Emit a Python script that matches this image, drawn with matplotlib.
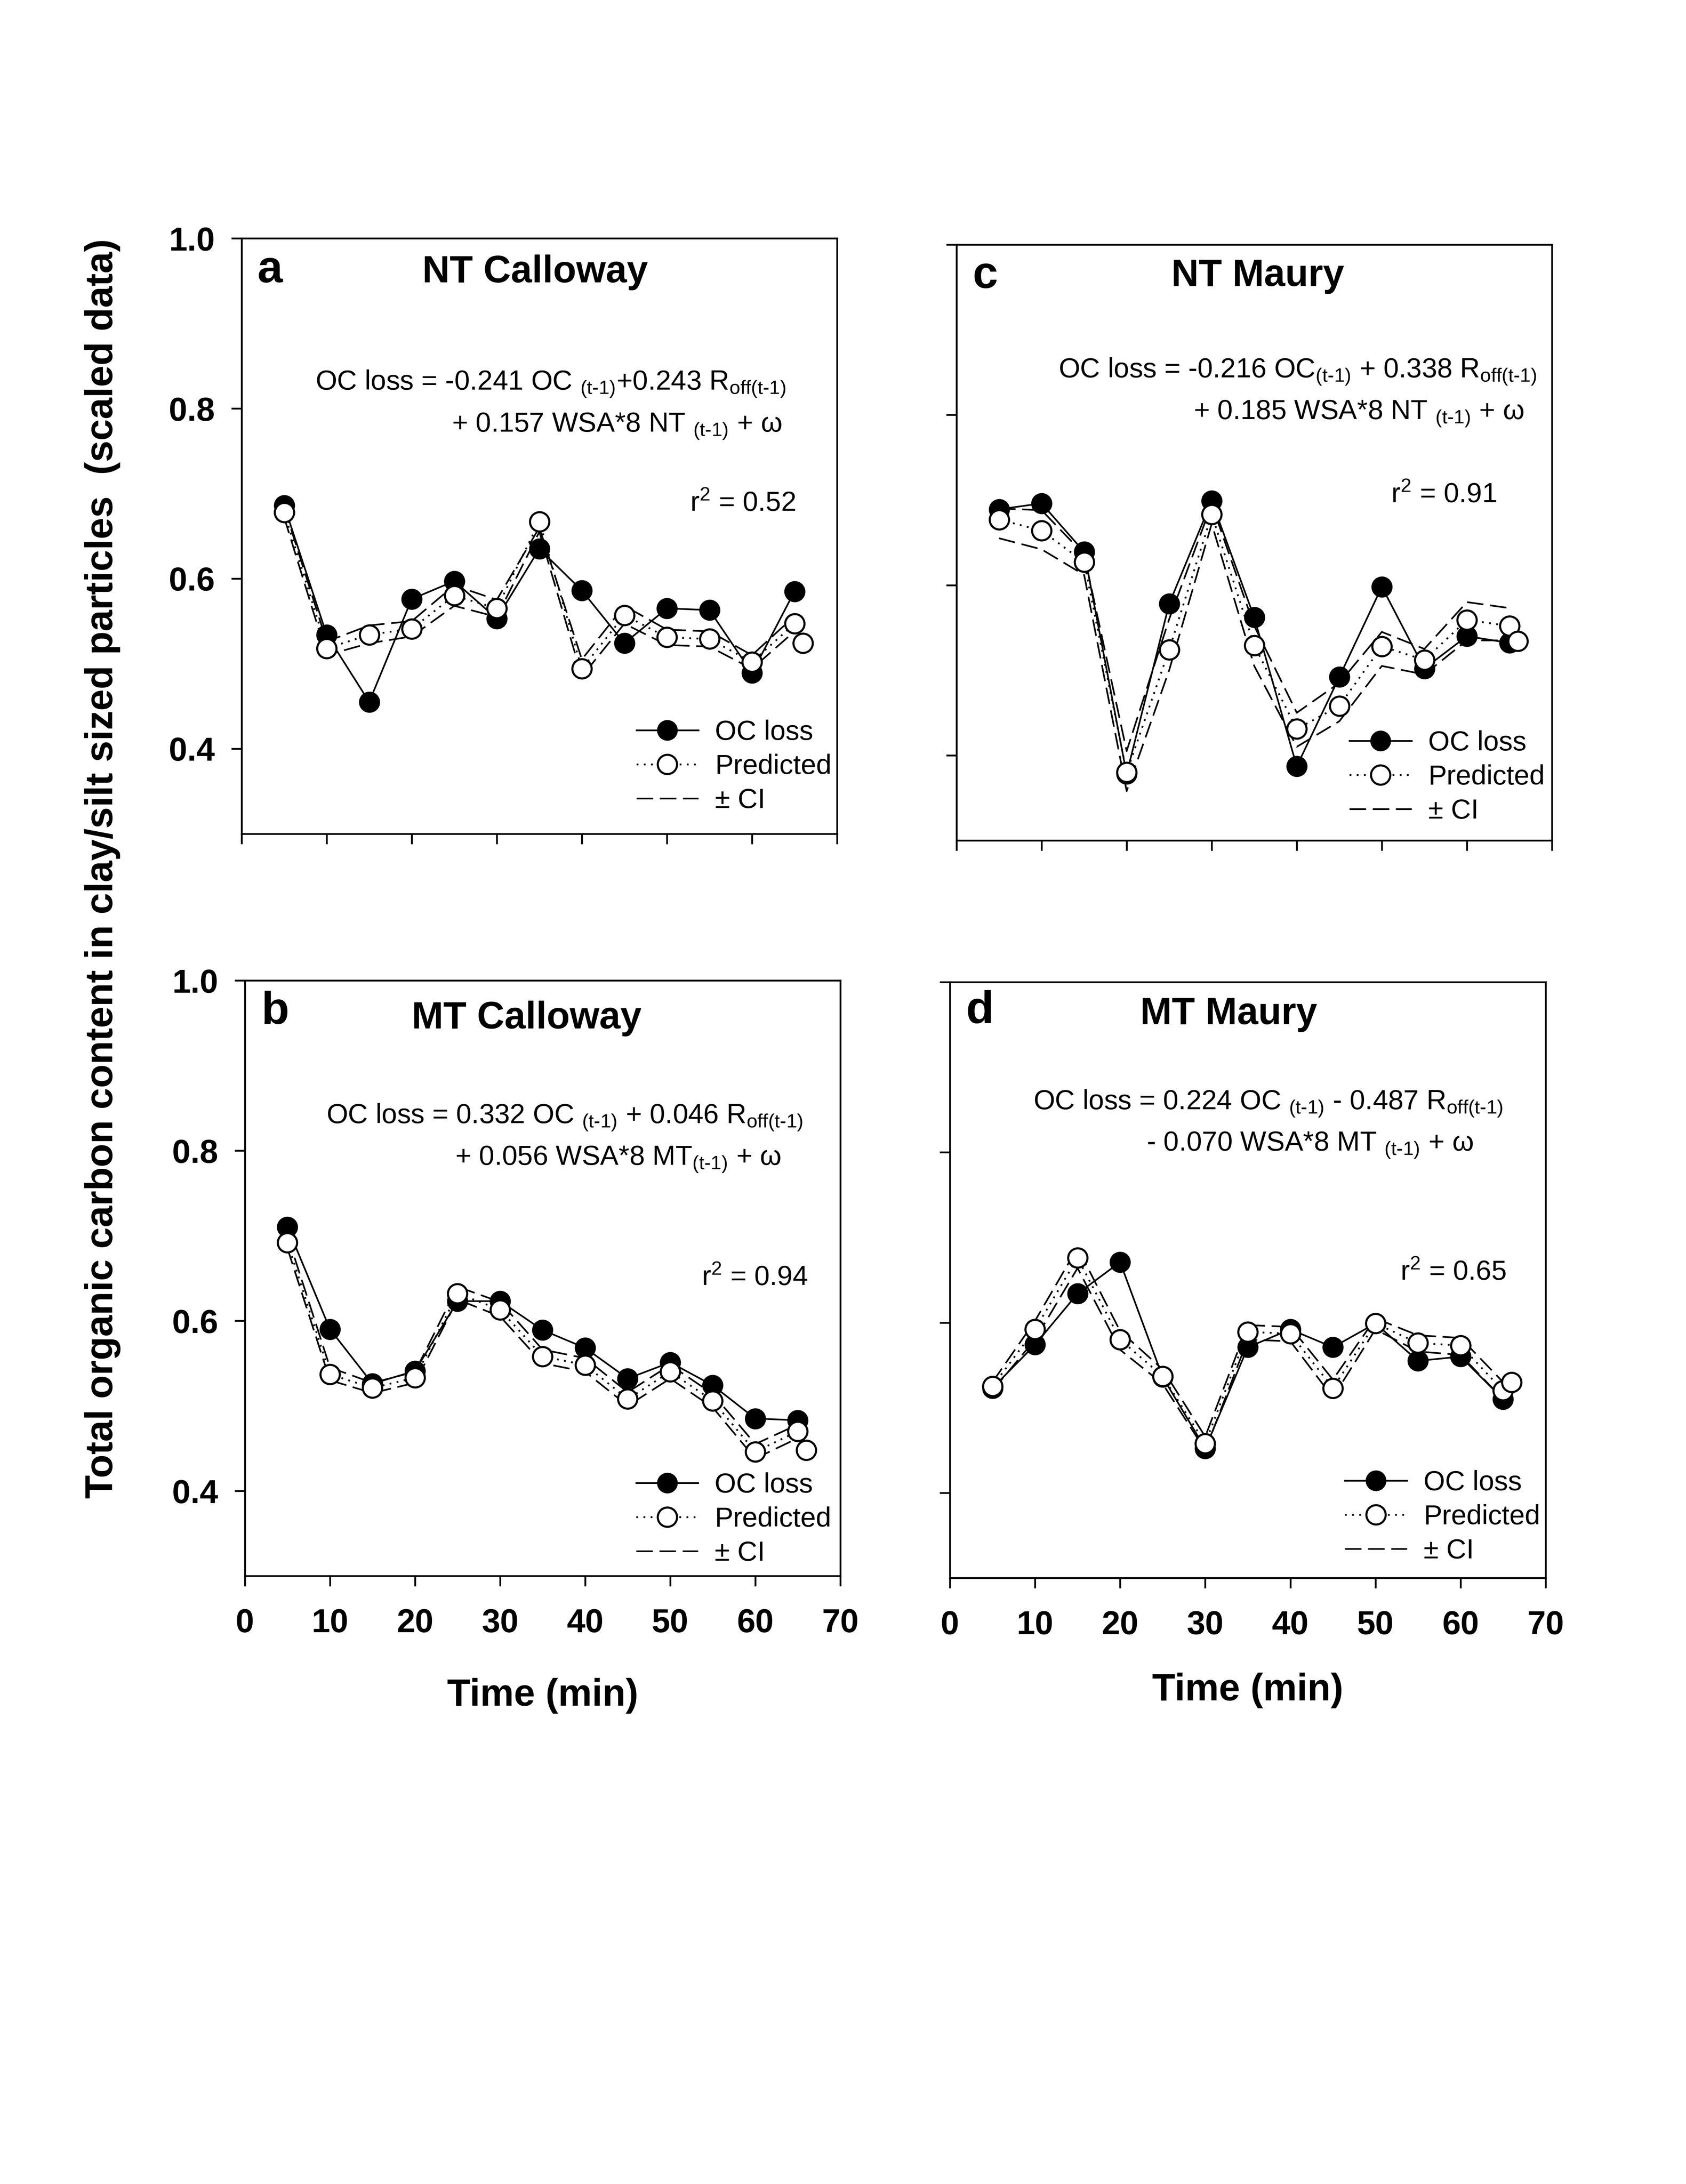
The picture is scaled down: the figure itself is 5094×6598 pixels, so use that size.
import matplotlib
matplotlib.use('Agg')
import matplotlib.pyplot as plt
from matplotlib.lines import Line2D

plt.rcParams['font.family'] = ['Liberation Sans', 'DejaVu Sans']
plt.rcParams['mathtext.fontset'] = 'custom'
plt.rcParams['mathtext.rm'] = 'Liberation Sans'
plt.rcParams['mathtext.it'] = 'Liberation Sans:italic'
plt.rcParams['mathtext.bf'] = 'Liberation Sans:bold'

# ---------------- data ----------------
time_obs = [5, 10, 15, 20, 25, 30, 35, 40, 45, 50, 55, 60, 65]
time_pred = [5, 10, 15, 20, 25, 30, 35, 40, 45, 50, 55, 60, 65, 66]
time_ci = [5, 10, 15, 20, 25, 30, 35, 40, 45, 50, 55, 60, 65]

# a: NT Calloway
a_oc = [0.686, 0.534, 0.455, 0.576, 0.597, 0.553, 0.635, 0.586, 0.524, 0.565, 0.563, 0.489, 0.585]
a_pred = [0.678, 0.518, 0.534, 0.541, 0.580, 0.565, 0.667, 0.494, 0.557, 0.531, 0.529, 0.502, 0.547, 0.524]
a_ci_up = [0.684, 0.526, 0.545, 0.550, 0.592, 0.575, 0.660, 0.505, 0.568, 0.540, 0.538, 0.510, 0.556]
a_ci_lo = [0.672, 0.510, 0.524, 0.532, 0.568, 0.555, 0.655, 0.485, 0.547, 0.522, 0.520, 0.494, 0.538]

# c: NT Maury
c_oc = [0.689, 0.696, 0.639, 0.378, 0.578, 0.699, 0.562, 0.387, 0.492, 0.598, 0.502, 0.540, 0.532]
c_pred = [0.677, 0.664, 0.627, 0.380, 0.524, 0.683, 0.529, 0.431, 0.458, 0.528, 0.512, 0.559, 0.552, 0.534]
c_ci_up = [0.690, 0.688, 0.636, 0.405, 0.560, 0.695, 0.552, 0.450, 0.485, 0.545, 0.525, 0.580, 0.573]
c_ci_lo = [0.655, 0.642, 0.612, 0.358, 0.500, 0.672, 0.505, 0.410, 0.440, 0.505, 0.495, 0.535, 0.535]

# b: MT Calloway
b_oc = [0.710, 0.590, 0.526, 0.541, 0.623, 0.623, 0.589, 0.568, 0.532, 0.551, 0.524, 0.485, 0.483]
b_pred = [0.692, 0.537, 0.521, 0.533, 0.632, 0.613, 0.558, 0.548, 0.508, 0.540, 0.506, 0.446, 0.470, 0.448]
b_ci_up = [0.700, 0.545, 0.527, 0.540, 0.640, 0.622, 0.566, 0.556, 0.516, 0.548, 0.514, 0.455, 0.478]
b_ci_lo = [0.685, 0.530, 0.515, 0.527, 0.625, 0.605, 0.550, 0.540, 0.500, 0.532, 0.498, 0.438, 0.462]

# d: MT Maury
d_oc = [0.523, 0.574, 0.634, 0.671, 0.536, 0.452, 0.571, 0.592, 0.571, 0.599, 0.555, 0.560, 0.510]
d_pred = [0.525, 0.592, 0.676, 0.580, 0.537, 0.458, 0.589, 0.587, 0.523, 0.599, 0.576, 0.573, 0.520, 0.530]
d_ci_up = [0.530, 0.602, 0.688, 0.590, 0.545, 0.466, 0.597, 0.595, 0.533, 0.605, 0.585, 0.582, 0.530]
d_ci_lo = [0.520, 0.580, 0.664, 0.568, 0.528, 0.450, 0.580, 0.578, 0.512, 0.592, 0.566, 0.562, 0.510]

x_ticks = [0, 10, 20, 30, 40, 50, 60, 70]
y_ticks = [0.4, 0.6, 0.8, 1.0]
y_ticklabels = ['0.4', '0.6', '0.8', '1.0']
legend_labels = ['OC loss', 'Predicted', '\u00b1 CI']

W, H = 5094, 6598
fig = plt.figure(figsize=(W / 300, H / 300), dpi=300)

def px_axes(left, top, right, bottom):
    return [left / W, 1 - bottom / H, (right - left) / W, (bottom - top) / H]

HY = '\u2010'  # plain hyphen glyph inside mathtext
SUB = r'$_{\mathrm{(t' + HY + r'1)}}$'
SUBOFF = r'$_{\mathrm{off(t' + HY + r'1)}}$'

SP_LW = 1.3
MS = 14
DASH = (0, (10, 4))
DOT = (0, (1, 3))
panels = [
    dict(rect=px_axes(730, 720, 2529, 2519), oc=a_oc, pred=a_pred, up=a_ci_up, lo=a_ci_lo,
         letter='a', letter_xy=(0.048, 0.946), title='NT Calloway', title_xy=(0.493, 0.943),
         eq1='OC loss = -0.241 OC ' + SUB + '+0.243 R' + SUBOFF, eq1_xy=(0.124, 0.7456),
         eq2='+ 0.157 WSA*8 NT ' + SUB + ' + ω', eq2_xy=(0.353, 0.675),
         r2=r'r$^{2}$ = 0.52', r2_xy=(0.753, 0.542),
         leg_xy=(0.663, 0.113), ylab=True, xlab=False),
    dict(rect=px_axes(2890, 739, 4689, 2539), oc=c_oc, pred=c_pred, up=c_ci_up, lo=c_ci_lo,
         letter='c', letter_xy=(0.048, 0.947), title='NT Maury', title_xy=(0.506, 0.947),
         eq1='OC loss = -0.216 OC' + SUB + ' + 0.338 R' + SUBOFF, eq1_xy=(0.171, 0.777),
         eq2='+ 0.185 WSA*8 NT ' + SUB + ' + ω', eq2_xy=(0.398, 0.707),
         r2=r'r$^{2}$ = 0.91', r2_xy=(0.730, 0.567),
         leg_xy=(0.660, 0.106), ylab=False, xlab=False),
    dict(rect=px_axes(740, 2962, 2539, 4761), oc=b_oc, pred=b_pred, up=b_ci_up, lo=b_ci_lo,
         letter='b', letter_xy=(0.051, 0.947), title='MT Calloway', title_xy=(0.473, 0.936),
         eq1='OC loss = 0.332 OC ' + SUB + ' + 0.046 R' + SUBOFF, eq1_xy=(0.137, 0.760),
         eq2='+ 0.056 WSA*8 MT' + SUB + ' + ω', eq2_xy=(0.353, 0.690),
         r2=r'r$^{2}$ = 0.94', r2_xy=(0.767, 0.488),
         leg_xy=(0.657, 0.095), ylab=True, xlab=True, xlab_y=-0.201),
    dict(rect=px_axes(2870, 2967, 4670, 4767), oc=d_oc, pred=d_pred, up=d_ci_up, lo=d_ci_lo,
         letter='d', letter_xy=(0.050, 0.951), title='MT Maury', title_xy=(0.468, 0.946),
         eq1='OC loss = 0.224 OC ' + SUB + ' - 0.487 R' + SUBOFF, eq1_xy=(0.140, 0.786),
         eq2='- 0.070 WSA*8 MT ' + SUB + ' + ω', eq2_xy=(0.330, 0.717),
         r2=r'r$^{2}$ = 0.65', r2_xy=(0.756, 0.500),
         leg_xy=(0.663, 0.102), ylab=False, xlab=True, xlab_y=-0.189),
]

for p in panels:
    ax = fig.add_axes(p['rect'])
    ax.plot(time_ci, p['up'], color='black', lw=1.2, linestyle=DASH, zorder=2)
    ax.plot(time_ci, p['lo'], color='black', lw=1.2, linestyle=DASH, zorder=2)
    ax.plot(time_obs, p['oc'], color='black', lw=1.2, linestyle='-', marker='o', ms=MS,
            mfc='black', mec='black', mew=1.3, zorder=3)
    ax.plot(time_pred, p['pred'], color='black', lw=1.3, linestyle=DOT, marker='o', ms=MS,
            mfc='white', mec='black', mew=1.5, zorder=4)
    ax.set_xlim(0, 70)
    ax.set_ylim(0.3, 1.0)
    ax.set_xticks(x_ticks)
    ax.set_yticks(y_ticks)
    for s in ax.spines.values():
        s.set_linewidth(SP_LW)
    ax.tick_params(axis='both', direction='out', length=7.4, width=SP_LW,
                   top=False, right=False)
    ax.tick_params(axis='x', pad=16)
    ax.tick_params(axis='y', pad=12)
    if p['ylab']:
        ax.set_yticklabels(y_ticklabels, fontsize=24, fontweight='bold')
    else:
        ax.set_yticklabels([])
    if p['xlab']:
        ax.set_xticklabels([str(t) for t in x_ticks], fontsize=24, fontweight='bold')
        ax.text(0.5, p['xlab_y'], 'Time (min)', transform=ax.transAxes, ha='center', va='center',
                fontsize=27.5, fontweight='bold')
    else:
        ax.set_xticklabels([])
    ax.text(*p['letter_xy'], p['letter'], transform=ax.transAxes, ha='center', va='center',
            fontsize=33, fontweight='bold')
    ax.text(*p['title_xy'], p['title'], transform=ax.transAxes, ha='center', va='center',
            fontsize=27.5, fontweight='bold')
    ax.text(*p['eq1_xy'], p['eq1'], transform=ax.transAxes, ha='left', va='baseline', fontsize=20)
    ax.text(*p['eq2_xy'], p['eq2'], transform=ax.transAxes, ha='left', va='baseline', fontsize=20)
    ax.text(*p['r2_xy'], p['r2'], transform=ax.transAxes, ha='left', va='baseline', fontsize=20)
    handles = [
        Line2D([], [], color='black', lw=1.2, linestyle='-', marker='o', ms=MS, mfc='black', mec='black'),
        Line2D([], [], color='black', lw=1.3, linestyle=DOT, marker='o', ms=MS, mfc='white',
               mec='black', mew=1.5),
        Line2D([], [], color='black', lw=1.2, linestyle=DASH),
    ]
    ax.legend(handles, legend_labels, loc='center left', bbox_to_anchor=p['leg_xy'],
              frameon=False, fontsize=20, handlelength=2.25, handletextpad=0.6,
              labelspacing=0.3, borderpad=0, borderaxespad=0, numpoints=1)

fig.text(310 / W, 1 - 2624 / H,
         'Total organic carbon content in clay/silt sized particles  (scaled data)',
         rotation=90, ha='center', va='center', fontsize=28, fontweight='bold')

fig.savefig('out.png', dpi=300)
